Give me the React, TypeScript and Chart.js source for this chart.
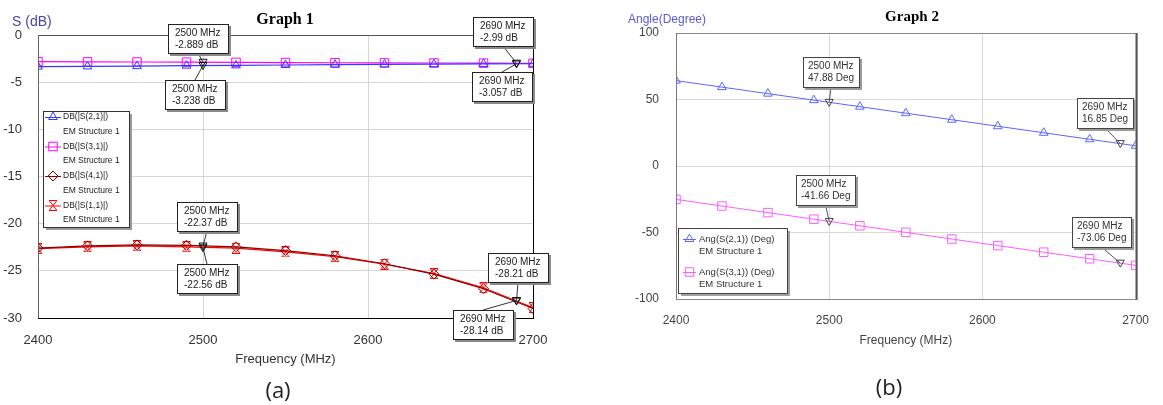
import React, { useEffect, useRef } from "react";
import { Chart, registerables } from "chart.js";
import { drawPoint } from "chart.js/helpers";

Chart.register(...registerables);

// ---------- DATA ----------
const freqs = [2400, 2430, 2460, 2490, 2520, 2550, 2580, 2610, 2640, 2670, 2700];

// Graph 1 (dB)
const s21dB = [-3.35, -3.33, -3.3, -3.25, -3.22, -3.18, -3.15, -3.12, -3.09, -3.07, -3.05];
const s31dB = [-2.83, -2.85, -2.86, -2.88, -2.9, -2.92, -2.94, -2.96, -2.97, -2.98, -3.0];
const s41dB = [-22.6, -22.35, -22.25, -22.3, -22.45, -22.85, -23.4, -24.25, -25.35, -26.9, -29.0];
const s11dB = [-22.65, -22.45, -22.35, -22.45, -22.6, -23.0, -23.5, -24.3, -25.3, -26.8, -28.9];

// Graph 2 (degrees)
const s21Deg = [64.2, 59.3, 54.4, 49.5, 44.6, 39.7, 34.8, 29.9, 25.0, 20.1, 15.2];
const s31Deg = [-25.1, -30.1, -35.05, -40.0, -44.95, -49.9, -54.9, -59.85, -64.8, -69.75, -74.7];

// markers
const markerFreqs = [2500, 2690];
const s21dBMarkers = [-3.238, -3.057];
const s31dBMarkers = [-2.889, -2.99];
const s41dBMarkers = [-22.37, -28.21];
const s11dBMarkers = [-22.56, -28.14];
const s21DegMarkers = [47.88, 16.85];
const s31DegMarkers = [-41.66, -73.06];

// axes
const xMin = 2400, xMax = 2700, xStep = 100;
const dbMin = -30, dbMax = 0, dbStep = 5;
const degMin = -100, degMax = 100, degStep = 50;

// labels
const legendA = ["DB(|S(2,1)|)", "DB(|S(3,1)|)", "DB(|S(4,1)|)", "DB(|S(1,1)|)"];
const legendB = ["Ang(S(2,1)) (Deg)", "Ang(S(3,1)) (Deg)"];
const sourceName = "EM Structure 1";

// ---------- helpers ----------
const SANS = "'Liberation Sans', Arial, sans-serif";

function hourglass(color: string) {
  const c = document.createElement("canvas");
  c.width = 10; c.height = 11;
  const g = c.getContext("2d")!;
  g.strokeStyle = color; g.lineWidth = 1;
  g.beginPath();
  g.moveTo(1, 0.5); g.lineTo(9, 0.5);
  g.moveTo(1, 10.5); g.lineTo(9, 10.5);
  g.moveTo(1.5, 1); g.lineTo(8.5, 10);
  g.moveTo(8.5, 1); g.lineTo(1.5, 10);
  g.stroke();
  return c;
}

type Mk = { freq: number; value: number; dx: number; dy: number };

function overlayPlugin(cfg: any) {
  return {
    id: "overlay" + cfg.id,
    afterDatasetsDraw(chart: any) {
      const ctx = chart.ctx;
      const ca = chart.chartArea;
      const xs = chart.scales.x, ys = chart.scales.y;
      ctx.save();
      // frame
      const seg = (x1: number, y1: number, x2: number, y2: number, col: string, w: number) => {
        ctx.strokeStyle = col; ctx.lineWidth = w;
        ctx.beginPath(); ctx.moveTo(x1, y1); ctx.lineTo(x2, y2); ctx.stroke();
      };
      const f = cfg.frame;
      seg(ca.left, ca.top + 0.5, ca.right, ca.top + 0.5, f.top, 1);
      seg(ca.left + 0.5, ca.top, ca.left + 0.5, ca.bottom, f.left, 1);
      seg(ca.right + f.rightW / 2, ca.top, ca.right + f.rightW / 2, ca.bottom + 1, f.right, f.rightW);
      seg(ca.left, ca.bottom + 0.5, ca.right + 1, ca.bottom + 0.5, f.bottom, 1);

      // legend
      const L = cfg.legend;
      ctx.fillStyle = L.shadow;
      ctx.fillRect(L.x + 3, L.y + 3, L.w, L.h);
      ctx.fillStyle = "#fff";
      ctx.fillRect(L.x, L.y, L.w, L.h);
      ctx.strokeStyle = L.border; ctx.lineWidth = 1;
      ctx.strokeRect(L.x + 0.5, L.y + 0.5, L.w, L.h);
      ctx.font = L.font;
      ctx.textBaseline = "middle";
      ctx.textAlign = "left";
      chart.data.datasets.forEach((ds: any, i: number) => {
        const y = L.firstY + i * L.step;
        ctx.strokeStyle = ds.borderColor; ctx.lineWidth = 1;
        ctx.beginPath(); ctx.moveTo(L.symX1, y + 0.5); ctx.lineTo(L.symX2, y + 0.5); ctx.stroke();
        ctx.fillStyle = "rgba(0,0,0,0)";
        drawPoint(ctx, { pointStyle: ds.pointStyle, radius: ds.pointRadius, rotation: 0, borderWidth: 1 } as any,
          (L.symX1 + L.symX2) / 2, y);
        ctx.fillStyle = L.color;
        ctx.fillText(ds.label, L.textX, y);
        ctx.fillText(sourceName, L.textX, y + L.lineGap);
      });

      // markers
      cfg.markers.forEach((m: Mk) => {
        const px = xs.getPixelForValue(m.freq), py = ys.getPixelForValue(m.value);
        const lines = [`${m.freq} MHz`, `${m.value} ${cfg.unit}`];
        ctx.font = cfg.boxFont;
        const w = Math.round(Math.max(...lines.map((l) => ctx.measureText(l).width)) + cfg.boxPad * 2);
        const h = cfg.boxH;
        const bx = Math.round(px + m.dx), by = Math.round(py + m.dy);
        const ax = bx + w / 2;
        const ay = by > py ? by : by + h;
        seg(ax, ay, px, py, cfg.leader, 1);
        // marker symbol (inverted triangle)
        ctx.strokeStyle = cfg.markColor; ctx.lineWidth = 1;
        ctx.beginPath();
        ctx.moveTo(px - 4, py - 3); ctx.lineTo(px + 4, py - 3); ctx.lineTo(px, py + 4); ctx.closePath();
        ctx.stroke();
        // box
        ctx.fillStyle = cfg.boxShadow;
        ctx.fillRect(bx + 2, by + 2, w + 1, h + 1);
        ctx.fillStyle = "#fff";
        ctx.fillRect(bx, by, w, h);
        ctx.strokeStyle = cfg.boxBorder;
        ctx.strokeRect(bx + 0.5, by + 0.5, w, h);
        ctx.fillStyle = cfg.boxText;
        ctx.textAlign = "left";
        ctx.textBaseline = "middle";
        ctx.fillText(lines[0], bx + cfg.boxPad, by + h * 0.31);
        ctx.fillText(lines[1], bx + cfg.boxPad, by + h * 0.72);
      });

      // titles
      ctx.font = cfg.titleFont;
      ctx.fillStyle = "#000";
      ctx.textAlign = "center";
      ctx.textBaseline = "middle";
      ctx.fillText(cfg.title, cfg.titleX, cfg.titleY);
      ctx.font = cfg.yUnitFont;
      ctx.fillStyle = cfg.yUnitColor;
      ctx.textAlign = "left";
      ctx.fillText(cfg.yUnit, cfg.yUnitX, cfg.yUnitY);
      ctx.restore();
    },
  };
}

function baseOptions(p: any) {
  return {
    responsive: false,
    animation: false as const,
    events: [] as any,
    layout: { padding: { left: 0, top: p.top, right: p.right, bottom: 0 } },
    plugins: { legend: { display: false }, title: { display: false }, tooltip: { enabled: false } },
    scales: {
      x: {
        type: "linear" as const,
        min: xMin, max: xMax,
        afterFit: (s: any) => { s.height = p.xH; },
        ticks: {
          stepSize: xStep, color: p.tickColor, font: { family: SANS, size: p.tickSize }, padding: p.xPad, maxRotation: 0,
          callback: (v: any) => String(v),
        },
        grid: { color: p.grid, drawTicks: false, lineWidth: 1 },
        border: { display: false },
        title: { display: true, text: "Frequency (MHz)", color: p.tickColor, font: { family: SANS, size: p.tickSize }, padding: { top: 0, bottom: p.xTitlePad } },
      },
      y: {
        type: "linear" as const,
        min: p.yMin, max: p.yMax,
        afterFit: (s: any) => { s.width = p.yW; },
        ticks: {
          stepSize: p.yStep, color: p.tickColor, font: { family: SANS, size: p.tickSize }, padding: p.yPad,
          callback: (v: any) => String(v),
        },
        grid: { color: p.grid, drawTicks: false, lineWidth: 1 },
        border: { display: false },
      },
    },
  };
}

function ds(label: string, data: number[], color: string, style: any, radius: number, width: number) {
  return {
    label,
    data: freqs.map((f, i) => ({ x: f, y: data[i] })),
    borderColor: color,
    backgroundColor: "rgba(0,0,0,0)",
    pointBackgroundColor: "rgba(0,0,0,0)",
    pointBorderColor: color,
    pointStyle: style,
    pointRadius: radius,
    pointBorderWidth: 1,
    borderWidth: width,
    tension: 0,
  };
}

export default function App() {
  const refA = useRef<HTMLCanvasElement>(null);
  const refB = useRef<HTMLCanvasElement>(null);

  useEffect(() => {
    const hg = hourglass("#ff0000");
    const blueA = "#2f3cff", magA = "#ff00ff", dredA = "#8b0000", redA = "#ff0000";
    const chartA = new Chart(refA.current!, {
      type: "line",
      data: {
        datasets: [
          ds(legendA[0], s21dB, blueA, "triangle", 5, 1.2),
          ds(legendA[1], s31dB, magA, "rect", 6, 1.2),
          ds(legendA[2], s41dB, dredA, "rectRot", 5, 1.2),
          ds(legendA[3], s11dB, redA, hg, 5, 1.2),
        ],
      },
      options: baseOptions({
        top: 35, right: 47, xH: 87, yW: 38, xPad: 15, yPad: 16, xTitlePad: 38,
        yMin: dbMin, yMax: dbMax, yStep: dbStep, tickColor: "#333", tickSize: 13, grid: "#d6d6d6",
      }) as any,
      plugins: [
        overlayPlugin({
          id: "A",
          unit: "dB",
          frame: { top: "#555", left: "#666", right: "#000", rightW: 1, bottom: "#000" },
          legend: {
            x: 43, y: 111, w: 86, h: 116, shadow: "#9a9a9a", border: "#333",
            font: `8.5px ${SANS}`, color: "#222",
            firstY: 117, step: 29.5, lineGap: 14.5, symX1: 45, symX2: 61, textX: 63,
          },
          markers: [
            { freq: markerFreqs[0], value: s31dBMarkers[0], dx: -35, dy: -38 },
            { freq: markerFreqs[0], value: s21dBMarkers[0], dx: -38, dy: 14 },
            { freq: markerFreqs[1], value: s31dBMarkers[1], dx: -44, dy: -46 },
            { freq: markerFreqs[1], value: s21dBMarkers[1], dx: -45, dy: 8 },
            { freq: markerFreqs[0], value: s41dBMarkers[0], dx: -26, dy: -44 },
            { freq: markerFreqs[0], value: s11dBMarkers[0], dx: -26, dy: 16 },
            { freq: markerFreqs[1], value: s41dBMarkers[1], dx: -29, dy: -48 },
            { freq: markerFreqs[1], value: s11dBMarkers[1], dx: -64, dy: 10 },
          ],
          boxFont: `10px ${SANS}`, boxPad: 7, boxH: 29,
          boxShadow: "#8a8a8a", boxBorder: "#222", boxText: "#222", leader: "#333", markColor: "#111",
          title: "Graph 1", titleFont: `bold 16px 'Liberation Serif', 'Times New Roman', serif`, titleX: 285, titleY: 20,
          yUnit: "S (dB)", yUnitFont: `14px ${SANS}`, yUnitColor: "#4646a8", yUnitX: 12, yUnitY: 22,
        }),
      ],
    });

    const blueB = "#5a66ff", magB = "#ff5cff";
    const chartB = new Chart(refB.current!, {
      type: "line",
      data: {
        datasets: [
          ds(legendB[0], s21Deg, blueB, "triangle", 5, 1),
          ds(legendB[1], s31Deg, magB, "rect", 6, 1),
        ],
      },
      options: baseOptions({
        top: 33, right: 17, xH: 106, yW: 96, xPad: 14, yPad: 17, xTitlePad: 57,
        yMin: degMin, yMax: degMax, yStep: degStep, tickColor: "#444", tickSize: 12, grid: "#d9d9d9",
      }) as any,
      plugins: [
        overlayPlugin({
          id: "B",
          unit: "Deg",
          frame: { top: "#888", left: "#777", right: "#555", rightW: 2, bottom: "#888" },
          legend: {
            x: 98, y: 228, w: 109, h: 65, shadow: "#a0a0a0", border: "#444",
            font: `9.5px ${SANS}`, color: "#333",
            firstY: 239, step: 33, lineGap: 12.5, symX1: 103, symX2: 116, textX: 119,
          },
          markers: [
            { freq: markerFreqs[0], value: s21DegMarkers[0], dx: -26, dy: -45 },
            { freq: markerFreqs[1], value: s21DegMarkers[1], dx: -43, dy: -46 },
            { freq: markerFreqs[0], value: s31DegMarkers[0], dx: -33, dy: -46 },
            { freq: markerFreqs[1], value: s31DegMarkers[1], dx: -48, dy: -46 },
          ],
          boxFont: `10px ${SANS}`, boxPad: 5, boxH: 30,
          boxShadow: "#9a9a9a", boxBorder: "#444", boxText: "#333", leader: "#555", markColor: "#444",
          title: "Graph 2", titleFont: `bold 15px 'Liberation Serif', 'Times New Roman', serif`, titleX: 332, titleY: 17,
          yUnit: "Angle(Degree)", yUnitFont: `12px ${SANS}`, yUnitColor: "#5a5ad0", yUnitX: 48, yUnitY: 20,
        }),
      ],
    });

    return () => {
      chartA.destroy();
      chartB.destroy();
    };
  }, []);

  const cap: React.CSSProperties = {
    position: "absolute",
    fontFamily: "'Open Sans', 'Noto Sans', sans-serif",
    fontSize: 22,
    color: "#222",
    transform: "translate(-50%, -50%)",
    lineHeight: 1,
  };

  return (
    <div style={{ position: "fixed", left: 0, top: 0, width: 1163, height: 405, background: "#fff", overflow: "hidden" }}>
      <canvas ref={refA} width={580} height={405} style={{ position: "absolute", left: 0, top: 0, width: 580, height: 405 }} />
      <canvas ref={refB} width={583} height={405} style={{ position: "absolute", left: 580, top: 0, width: 583, height: 405 }} />
      <div style={{ ...cap, left: 278, top: 389 }}>(a)</div>
      <div style={{ ...cap, left: 889, top: 386 }}>(b)</div>
    </div>
  );
}
